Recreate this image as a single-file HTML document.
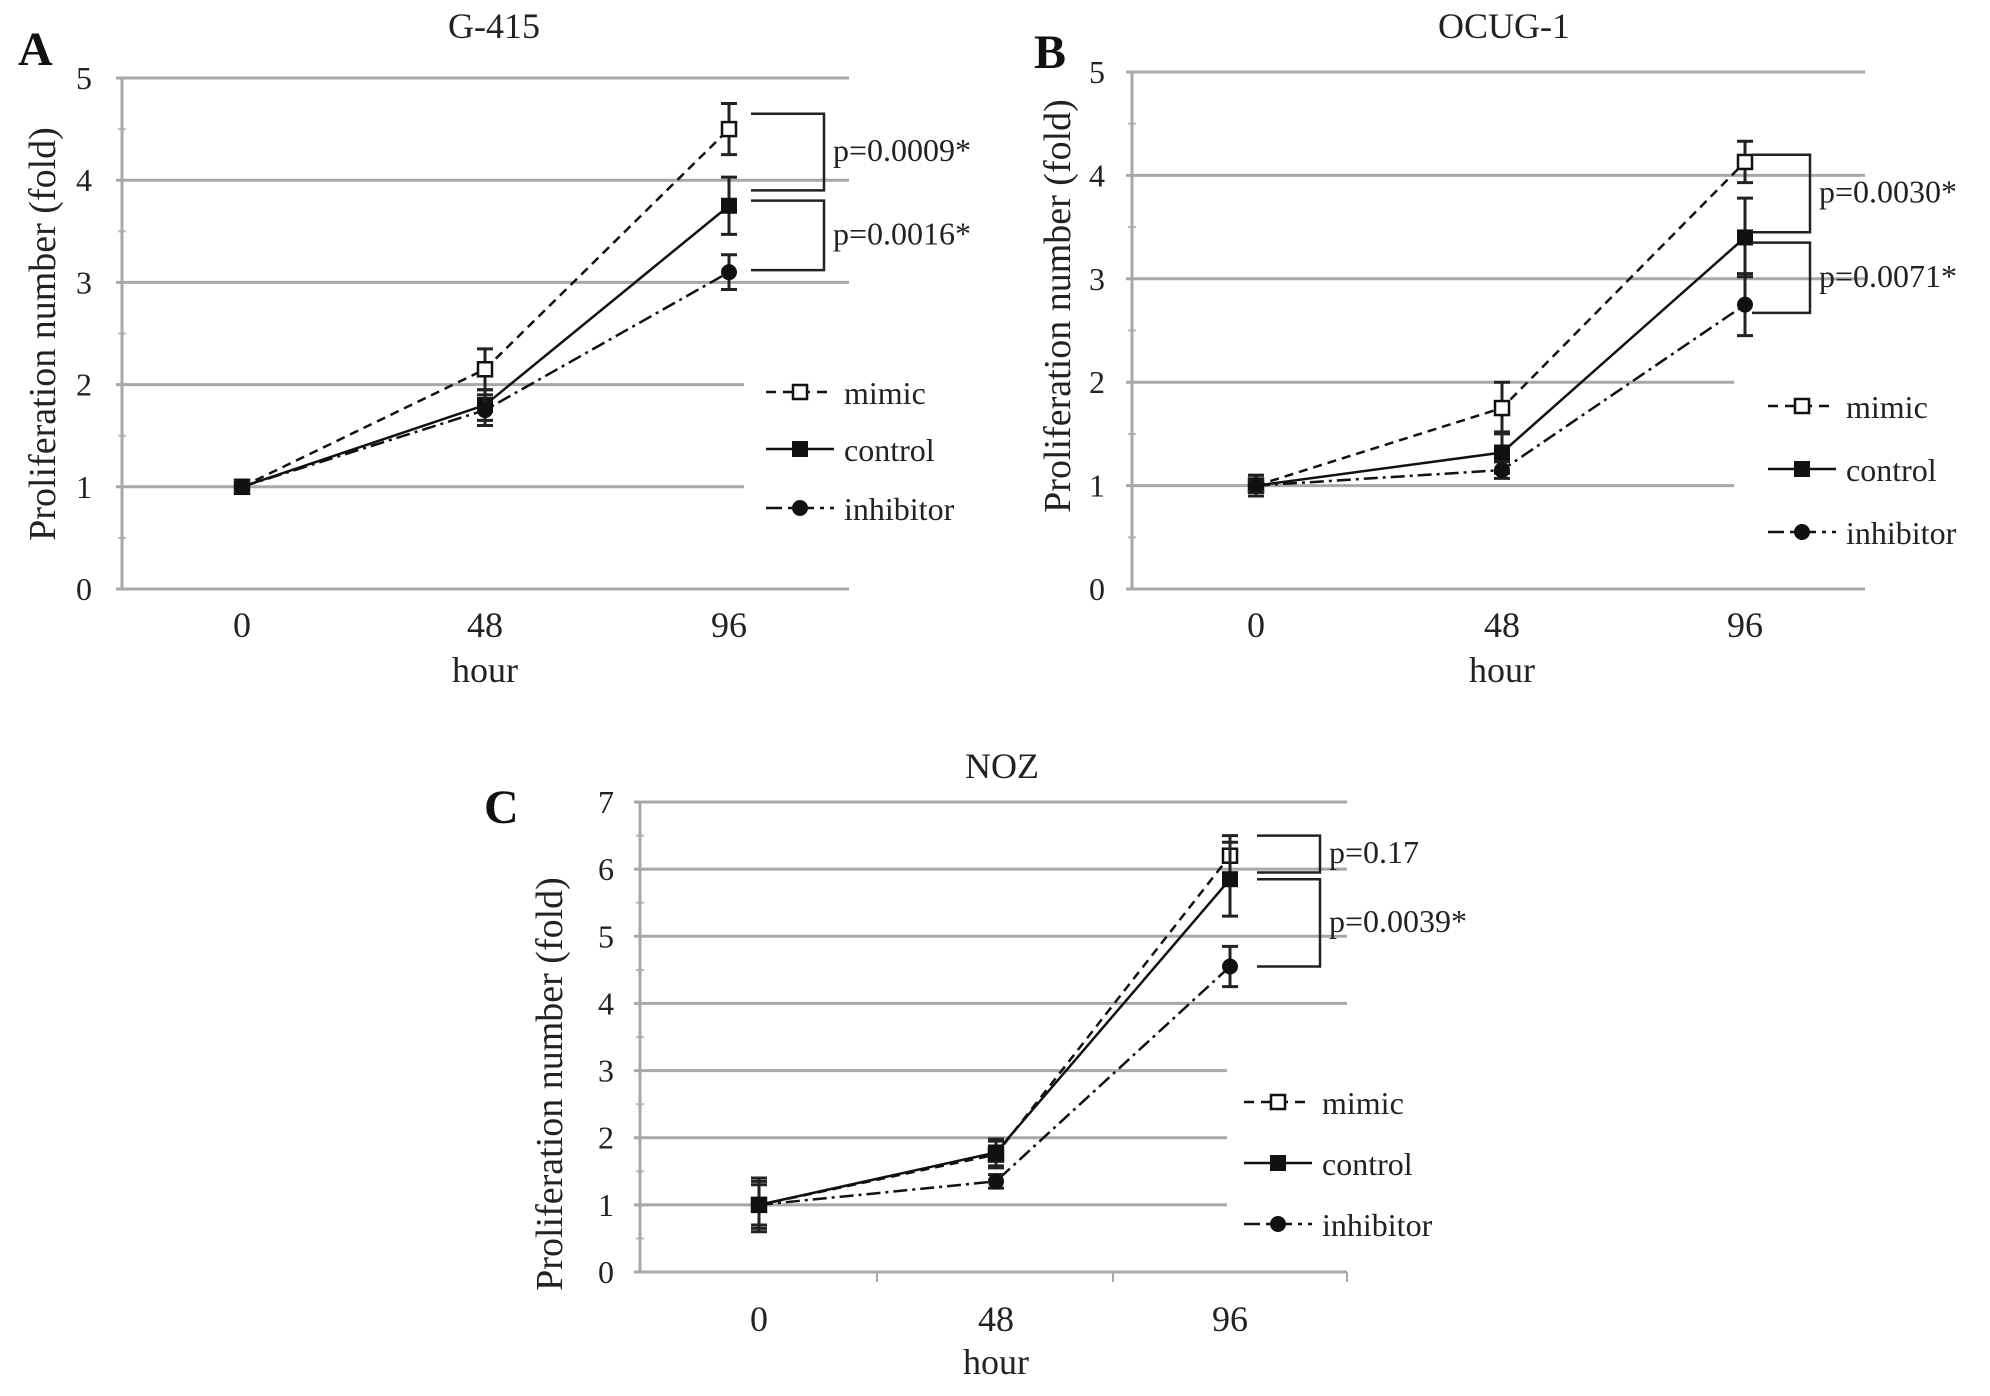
<!DOCTYPE html>
<html><head><meta charset="utf-8"><style>
html,body{margin:0;padding:0;background:#fff;}
svg{display:block;font-family:"Liberation Serif",serif;}
</style></head><body>
<svg id="fig" width="1990" height="1396" viewBox="0 0 1990 1396"></svg>
<script>
const hours = ["0","48","96"];
const seriesNames = ["mimic","control","inhibitor"];
// Panel A: G-415
const aMimic = [1, 2.15, 4.5];
const aControl = [1, 1.8, 3.75];
const aInhib = [1, 1.75, 3.1];
const aMimicErr = [0.05, 0.2, 0.25];
const aControlErr = [0.05, 0.15, 0.28];
const aInhibErr = [0.05, 0.15, 0.17];
const aYTicks = [0,1,2,3,4,5];
const aPvals = ["p=0.0009*","p=0.0016*"];
const aBrackets = [[4.65,3.9],[3.8,3.12]];
// Panel B: OCUG-1
const bMimic = [1, 1.75, 4.13];
const bControl = [1, 1.32, 3.4];
const bInhib = [1, 1.15, 2.75];
const bMimicErr = [0.1, 0.25, 0.2];
const bControlErr = [0.1, 0.2, 0.38];
const bInhibErr = [0.05, 0.08, 0.3];
const bYTicks = [0,1,2,3,4,5];
const bPvals = ["p=0.0030*","p=0.0071*"];
const bBrackets = [[4.2,3.45],[3.35,2.67]];
// Panel C: NOZ
const cMimic = [1, 1.75, 6.2];
const cControl = [1, 1.78, 5.85];
const cInhib = [1, 1.35, 4.55];
const cMimicErr = [0.3, 0.2, 0.3];
const cControlErr = [0.4, 0.2, 0.55];
const cInhibErr = [0.35, 0.1, 0.3];
const cYTicks = [0,1,2,3,4,5,6,7];
const cPvals = ["p=0.17","p=0.0039*"];
const cBrackets = [[6.5,5.95],[5.85,4.55]];

const NS="http://www.w3.org/2000/svg";
const svg=document.getElementById('fig');
function mk(tag,attrs,parent,text){const e=document.createElementNS(NS,tag);for(const k in attrs)e.setAttribute(k,attrs[k]);if(text!==undefined)e.textContent=text;(parent||svg).appendChild(e);return e;}

const dashes=["9,6","","14,5,3,5"];
const legDashes=["10,7","","16,6,4,6"];

function panel(cfg){
  const g=mk('g',{});
  
  
  const ymax=cfg.ticks[cfg.ticks.length-1];
  const Y=v=>cfg.y0-(cfg.y0-cfg.yTop)*v/ymax;
  const X=i=>cfg.xs[i];
  cfg.ticks.forEach(t=>{
    const short = t>0 && t<=cfg.shortMax;
    const l=mk('line',{x1:cfg.ax-6,x2:short?cfg.shortEnd:cfg.xr,y1:Y(t),y2:Y(t),stroke:'#a8a8a8','stroke-width':3},g);
    
    
    const tl=mk('text',{x:cfg.tickX,y:Y(t)+11,'font-size':32,'text-anchor':'middle',fill:'#222'},g,String(t));
    
    
    if(t<ymax){mk('line',{x1:cfg.ax-4,x2:cfg.ax+4,y1:(Y(t)+Y(t+1))/2,y2:(Y(t)+Y(t+1))/2,stroke:'#bbb','stroke-width':2},g);}
  });
  const ax=mk('line',{x1:cfg.ax,x2:cfg.ax,y1:cfg.yTop,y2:cfg.y0,stroke:'#a8a8a8','stroke-width':3},g);
  
  
  if(cfg.xticks){cfg.xticks.forEach(x=>mk('line',{x1:x,x2:x,y1:cfg.y0,y2:cfg.y0+10,stroke:'#a8a8a8','stroke-width':2},g));}
  hours.forEach((h,i)=>{
    const t=mk('text',{x:X(i),y:cfg.xLabY,'font-size':36,'text-anchor':'middle',fill:'#222'},g,h);
    
    
  });
  const xt=mk('text',{x:X(1),y:cfg.hourY,'font-size':36,'text-anchor':'middle',fill:'#222'},g,'hour');
  
  
  const yt=mk('text',{x:0,y:0,'font-size':38,'text-anchor':'middle',fill:'#222',transform:`translate(${cfg.ytX},${cfg.ytY}) rotate(-90)`},g,'Proliferation number (fold)');
  
  
  const ti=mk('text',{x:cfg.titleX,y:cfg.titleY,'font-size':36,'text-anchor':'middle',fill:'#222'},g,cfg.title);
  
  
  const le=mk('text',{x:cfg.letterX,y:cfg.letterY,'font-size':48,'font-weight':'bold',fill:'#111'},g,cfg.letter);
  
  
  cfg.series.forEach((s,si)=>{
    const sg=mk('g',{},g);
    
    
    const pts=s.v.map((v,i)=>X(i)+','+Y(v)).join(' ');
    const pl=mk('polyline',{points:pts,fill:'none',stroke:'#111','stroke-width':2.5,'stroke-dasharray':dashes[si]},sg);
    
    
    s.v.forEach((v,i)=>{
      const e=s.e[i];
      const eb=mk('path',{d:`M${X(i)} ${Y(v+e)}V${Y(v-e)}M${X(i)-8} ${Y(v+e)}h16M${X(i)-8} ${Y(v-e)}h16`,stroke:'#222','stroke-width':3,fill:'none'},sg);
      
      
      let m;
      if(si===0) m=mk('rect',{x:X(i)-7,y:Y(v)-7,width:14,height:14,fill:'#fff',stroke:'#111','stroke-width':2.5},sg);
      else if(si===1) m=mk('rect',{x:X(i)-8,y:Y(v)-8,width:16,height:16,fill:'#111'},sg);
      else m=mk('circle',{cx:X(i),cy:Y(v),r:8,fill:'#111'},sg);
      
      
    });
  });
  cfg.brackets.forEach((b,bi)=>{
    const p=mk('path',{d:`M${cfg.bx1} ${Y(b[0])}H${cfg.bx2}V${Y(b[1])}H${cfg.bx1}`,fill:'none',stroke:'#222','stroke-width':2.5},g);
    
    
    const t=mk('text',{x:cfg.bx2+9,y:(Y(b[0])+Y(b[1]))/2+9,'font-size':32,fill:'#222'},g,cfg.pvals[bi]);
    
    
  });
  seriesNames.forEach((n,si)=>{
    const lg=mk('g',{},g);
    
    
    const y=cfg.legY[si];
    mk('line',{x1:cfg.legX,x2:cfg.legX+68,y1:y,y2:y,stroke:'#111','stroke-width':2.5,'stroke-dasharray':legDashes[si]},lg);
    const cx=cfg.legX+34;
    if(si===0) mk('rect',{x:cx-7,y:y-7,width:14,height:14,fill:'#fff',stroke:'#111','stroke-width':2.5},lg);
    else if(si===1) mk('rect',{x:cx-8,y:y-8,width:16,height:16,fill:'#111'},lg);
    else mk('circle',{cx:cx,cy:y,r:8,fill:'#111'},lg);
    mk('text',{x:cfg.legX+78,y:y+12,'font-size':32,fill:'#222'},lg,n);
  });
}

panel({letter:'A',title:'G-415',titleX:494,titleY:38,letterX:18,letterY:65,
  ax:122,xr:849,shortEnd:744,shortMax:2,y0:589,yTop:78,ticks:aYTicks,tickX:84,
  xs:[242,485,729],xLabY:637,hourY:682,ytX:55,ytY:334,
  series:[{v:aMimic,e:aMimicErr},{v:aControl,e:aControlErr},{v:aInhib,e:aInhibErr}],
  brackets:aBrackets,pvals:aPvals,bx1:751,bx2:824,legX:766,legY:[392,449,508]});
panel({letter:'B',title:'OCUG-1',titleX:1504,titleY:38,letterX:1034,letterY:68,
  ax:1132,xr:1865,shortEnd:1734,shortMax:2,y0:589,yTop:72,ticks:bYTicks,tickX:1097,
  xs:[1256,1502,1745],xLabY:637,hourY:682,ytX:1070,ytY:306,
  series:[{v:bMimic,e:bMimicErr},{v:bControl,e:bControlErr},{v:bInhib,e:bInhibErr}],
  brackets:bBrackets,pvals:bPvals,bx1:1752,bx2:1810,legX:1768,legY:[406,469,532]});
panel({letter:'C',title:'NOZ',titleX:1002,titleY:778,letterX:484,letterY:823,
  ax:640,xr:1347,shortEnd:1227,shortMax:3,y0:1272,yTop:802,ticks:cYTicks,tickX:606,
  xs:[759,996,1230],xLabY:1331,hourY:1374,ytX:562,ytY:1084,xticks:[877,1113,1347],
  series:[{v:cMimic,e:cMimicErr},{v:cControl,e:cControlErr},{v:cInhib,e:cInhibErr}],
  brackets:cBrackets,pvals:cPvals,bx1:1257,bx2:1320,legX:1244,legY:[1102,1163,1224]});
</script>
</body></html>
